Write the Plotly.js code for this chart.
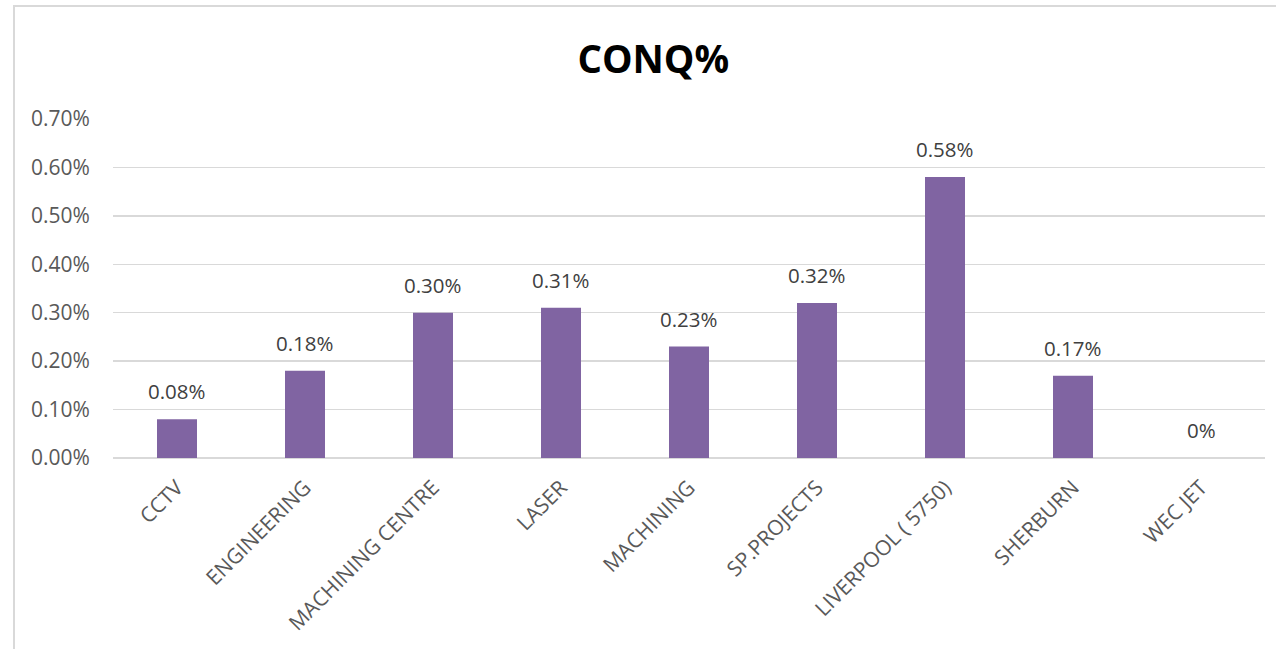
<!DOCTYPE html>
<html>
<head>
<meta charset="utf-8">
<script src="https://cdn.plot.ly/plotly-3.0.1.min.js"></script>
<style>
html,body{margin:0;padding:0;background:#fff;overflow:hidden;}
#frame{position:absolute;left:13px;top:5px;width:1300px;height:700px;border:2px solid #d9d9d9;box-sizing:border-box;}
#chart{position:absolute;left:0;top:0;width:1276px;height:649px;}
</style>
</head>
<body>
<div id="frame"></div>
<div id="chart"></div>
<script>
const categories = ["CCTV","ENGINEERING","MACHINING CENTRE","LASER","MACHINING","SP.PROJECTS","LIVERPOOL ( 5750)","SHERBURN","WEC JET"];
const values = [0.0008, 0.0018, 0.0030, 0.0031, 0.0023, 0.0032, 0.0058, 0.0017, 0];
const yTickVals = [0, 0.001, 0.002, 0.003, 0.004, 0.005, 0.006, 0.007];

const labels = values.map(v => v === 0 ? "0%" : (v*100).toFixed(2) + "%");
const fontFam = "'Open Sans', Lato, sans-serif";

const trace = {
  type: "bar",
  x: categories,
  y: values,
  marker: {color: "#8064A2"},
  hoverinfo: "x+y"
};

const annotations = categories.map((c, i) => ({
  x: c, y: values[i], xref: "x", yref: "y",
  text: labels[i], showarrow: false,
  yanchor: "bottom", yshift: 12,
  font: {family: fontFam, size: 20.5, color: "#404040"}
}));

const layout = {
  width: 1276, height: 649,
  margin: {l: 113, r: 11, t: 119, b: 191},
  paper_bgcolor: "rgba(0,0,0,0)",
  plot_bgcolor: "rgba(0,0,0,0)",
  bargap: 0.6875,
  showlegend: false,
  annotations: annotations,
  title: {text: "<b>CONQ%</b>", font: {family: fontFam, size: 38.5, color: "#000"}, x: 0.512, xanchor: "center", y: 1 - 60/649, yanchor: "middle", yref: "container"},
  xaxis: {
    type: "category",
    tickangle: -45,
    tickfont: {family: fontFam, size: 21, color: "#595959"},
    ticks: "outside", ticklen: 8, tickcolor: "rgba(0,0,0,0)",
    showline: false, showgrid: false, zeroline: false
  },
  yaxis: {
    range: [0, 0.007],
    tickvals: yTickVals,
    tickformat: ".2%",
    tickfont: {family: fontFam, size: 21, color: "#595959"},
    ticks: "outside", ticklen: 18, tickcolor: "rgba(0,0,0,0)",
    showgrid: true, gridcolor: "#d9d9d9", gridwidth: 1.5,
    zeroline: true, zerolinecolor: "#d9d9d9", zerolinewidth: 1.5,
    showline: false
  }
};

Plotly.newPlot("chart", [trace], layout, {displayModeBar: false, staticPlot: true});
</script>
</body>
</html>
